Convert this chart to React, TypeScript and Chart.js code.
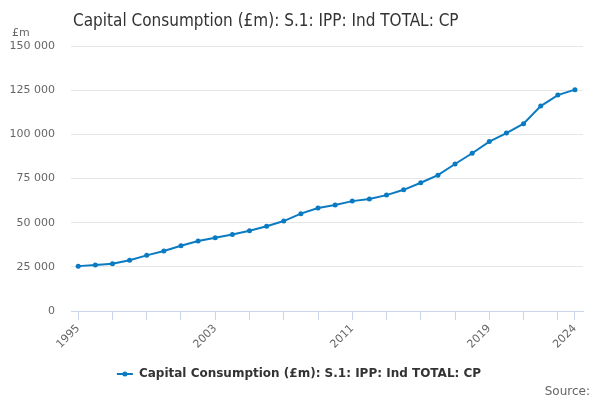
import { useEffect, useRef } from "react";
import { Chart, registerables } from "chart.js";

Chart.register(...registerables);

const TITLE = "Capital Consumption (£m): S.1: IPP: Ind TOTAL: CP";
const SERIES_NAME = "Capital Consumption (£m): S.1: IPP: Ind TOTAL: CP";

const years = [
  1995, 1996, 1997, 1998, 1999, 2000, 2001, 2002, 2003, 2004, 2005, 2006,
  2007, 2008, 2009, 2010, 2011, 2012, 2013, 2014, 2015, 2016, 2017, 2018,
  2019, 2020, 2021, 2022, 2023, 2024,
];

const values = [
  25400, 26000, 26700, 28700, 31500, 34000, 36900, 39600, 41500, 43300,
  45400, 48000, 50900, 55100, 58300, 60000, 62200, 63400, 65600, 68600,
  72600, 76900, 83200, 89300, 95900, 100700, 106000, 116000, 122200, 125300,
];

const labelledYears = [1995, 2003, 2011, 2019, 2024];
const tickYears = [
  1995, 1997, 1999, 2001, 2003, 2005, 2007, 2009, 2011, 2013, 2015, 2017,
  2019, 2021, 2023, 2024,
];

const LINE_COLOR = "#0a7bc2";
const FONT = "'DejaVu Sans', sans-serif";

const fmt = (v: number) =>
  String(Math.round(v)).replace(/\B(?=(\d{3})+(?!\d))/g, " ");

const extras = {
  id: "extras",
  afterDraw(chart: Chart) {
    const ctx = chart.ctx;
    ctx.save();
    // title
    ctx.fillStyle = "#333333";
    ctx.font = "17px 'DejaVu Sans Condensed', 'DejaVu Sans', sans-serif";
    ctx.textAlign = "left";
    ctx.textBaseline = "alphabetic";
    ctx.fillText(TITLE, 73, 26);
    // unit
    ctx.fillStyle = "#666666";
    ctx.font = `11px ${FONT}`;
    ctx.fillText("£m", 12, 36);
    // source
    ctx.textAlign = "right";
    ctx.font = `12px ${FONT}`;
    ctx.fillText("Source:", 590, 395);
    // legend
    ctx.font = `bold 12px ${FONT}`;
    const w = ctx.measureText(SERIES_NAME).width;
    const total = 16 + 6 + w;
    const x0 = 299 - total / 2;
    const y = 374;
    ctx.strokeStyle = LINE_COLOR;
    ctx.lineWidth = 2;
    ctx.beginPath();
    ctx.moveTo(x0, y);
    ctx.lineTo(x0 + 16, y);
    ctx.stroke();
    ctx.fillStyle = LINE_COLOR;
    ctx.beginPath();
    ctx.arc(x0 + 8, y, 2.5, 0, Math.PI * 2);
    ctx.fill();
    ctx.fillStyle = "#333333";
    ctx.textAlign = "left";
    ctx.textBaseline = "middle";
    ctx.fillText(SERIES_NAME, x0 + 22, y);
    ctx.restore();
  },
};

export default function App() {
  const canvasRef = useRef<HTMLCanvasElement | null>(null);

  useEffect(() => {
    if (!canvasRef.current) return;

    const chart = new Chart(canvasRef.current, {
      type: "line",
      data: {
        datasets: [
          {
            label: SERIES_NAME,
            data: years.map((x, i) => ({ x, y: values[i] })),
            borderColor: LINE_COLOR,
            backgroundColor: LINE_COLOR,
            borderWidth: 2,
            pointRadius: 2.5,
            pointBorderWidth: 0,
            tension: 0,
          },
        ],
      },
      options: {
        responsive: false,
        animation: false,
        layout: {
          padding: { top: 46, right: 17, left: 0, bottom: 0 },
        },
        plugins: {
          legend: { display: false },
          title: { display: false },
          tooltip: { enabled: false },
        },
        scales: {
          x: {
            type: "linear",
            min: 1994.58,
            max: 2024.47,
            afterBuildTicks: (scale) => {
              scale.ticks = tickYears.map((v) => ({ value: v }));
            },
            afterFit: (scale) => {
              scale.height = 89;
            },
            grid: {
              drawOnChartArea: false,
              drawTicks: true,
              tickLength: 9,
              color: "#ccd6eb",
            },
            border: { color: "#ccd6eb" },
            ticks: {
              autoSkip: false,
              minRotation: 45,
              maxRotation: 45,
              padding: 2,
              color: "#666666",
              font: { size: 11, family: FONT },
              callback: (value) =>
                labelledYears.includes(Number(value)) ? String(value) : "",
            },
          },
          y: {
            min: 0,
            max: 150000,
            afterFit: (scale) => {
              scale.width = 71;
            },
            grid: {
              color: "#e6e6e6",
              drawTicks: false,
            },
            border: { display: false },
            ticks: {
              stepSize: 25000,
              padding: 16,
              color: "#666666",
              font: { size: 11, family: FONT },
              callback: (value) => fmt(Number(value)),
            },
          },
        },
      },
      plugins: [extras],
    });

    return () => {
      chart.destroy();
    };
  }, []);

  return (
    <div
      style={{
        position: "fixed",
        left: 0,
        top: 0,
        width: 600,
        height: 400,
        background: "#ffffff",
      }}
    >
      <canvas ref={canvasRef} width={600} height={400}></canvas>
    </div>
  );
}
